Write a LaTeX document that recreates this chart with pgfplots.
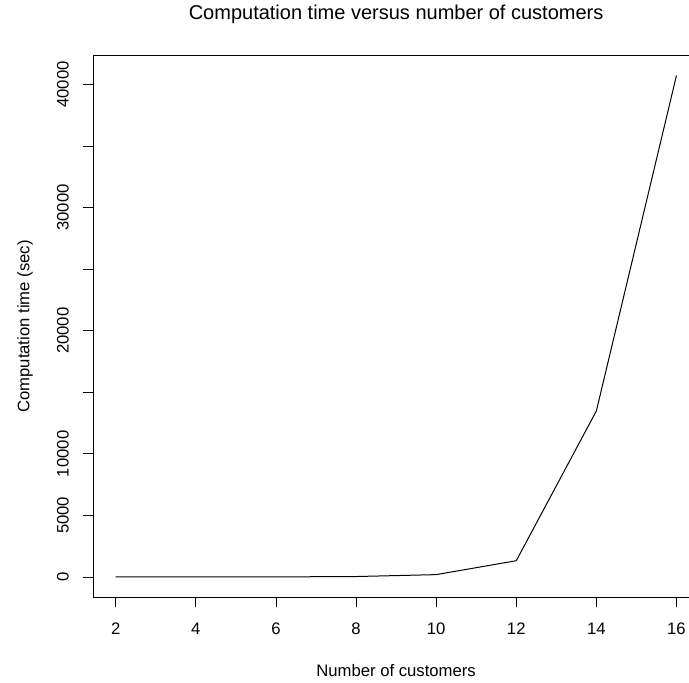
\documentclass[border=0pt]{standalone}
\usepackage{pgfplots}
\pgfplotsset{compat=1.18}
\usepackage{fontspec}
\setmainfont{Liberation Sans}
\usetikzlibrary{calc}
\begin{document}
\begin{tikzpicture}
\begin{axis}[
  name=ax,
  scale only axis,
  width=605.6pt, height=541.6pt,
  xmin=1.44, xmax=16.56,
  ymin=-1650, ymax=42330,
  scaled y ticks=false, scaled x ticks=false,
  axis line style={line width=1pt},
  tick align=outside,
  major tick length=10pt,
  tick style={line width=0.8pt, black},
  xtick={2,4,6,8,10,12,14,16},
  xticklabels={2,4,6,8,10,12,14,16},
  ytick={0,5000,10000,15000,20000,25000,30000,35000,40000},
  yticklabels={0,5000,10000,,20000,,30000,,40000},
  xtick pos=bottom, ytick pos=left,
  xticklabel style={font=\fontsize{16.67}{19}\selectfont, anchor=center, yshift=-21.7pt},
  yticklabel style={font=\fontsize{16.67}{19}\selectfont, rotate=90, anchor=center, yshift=20.3pt},
  clip=false,
]
\addplot[black, line width=1pt] coordinates {
  (2,0) (4,1) (6,5) (8,35) (10,190) (12,1320) (14,13480) (16,40720)
};
\end{axis}
\node[font=\fontsize{20}{23}\selectfont, anchor=center] at ([yshift=41.2pt]ax.north) {Computation time versus number of customers};
\node[font=\fontsize{16.67}{19}\selectfont, anchor=center] at ([yshift=-73.7pt]ax.south) {Number of customers};
\node[font=\fontsize{16.67}{19}\selectfont, anchor=center, rotate=90] at ([xshift=-68.3pt]ax.west) {Computation time (sec)};
\pgfresetboundingbox
\path ([xshift=-93.3pt, yshift=-85.7pt]ax.south west) rectangle ([xshift=595.7pt, yshift=55.7pt]ax.north west);
\end{tikzpicture}
\end{document}
